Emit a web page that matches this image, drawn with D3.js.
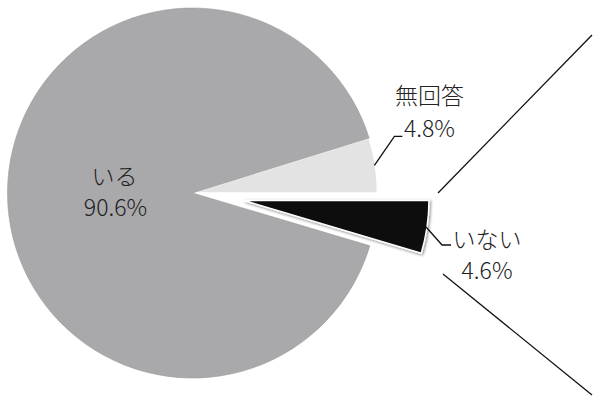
<!DOCTYPE html>
<html><head><meta charset="utf-8">
<script src="https://cdn.jsdelivr.net/npm/d3@7"></script>
<style>html,body{margin:0;padding:0;background:#fff;}svg{display:block;}</style>
</head><body>
<svg id="c" width="595" height="397"></svg>
<script>
const categories = ["無回答", "いない", "いる"];
const values = [4.8, 4.6, 90.6];
const valueLabels = ["4.8%", "4.6%", "90.6%"];

const colors = {"無回答": "#e3e3e3", "いない": "#0e0e0e", "いる": "#a9a9ab"};
const svg = d3.select("#c");
const cx = 192.5, cy = 193, R = 185;
const total = d3.sum(values);
const startA = Math.PI / 2 - (values[0] / total) * 2 * Math.PI;

const pie = d3.pie().sort(null).value(d => d.v)
  .startAngle(startA).endAngle(startA + 2 * Math.PI);
const data = categories.map((c, i) => ({c, v: values[i], lab: valueLabels[i]}));
const arcs = pie(data);
const arc = d3.arc().innerRadius(0).outerRadius(R);
const explode = {"いない": 52};

const font = "'Noto Sans CJK JP', 'Noto Sans', sans-serif";
const fw = 300;
const g = svg.append("g").attr("transform", `translate(${cx},${cy})`);

function offset(a, d) {
  const m = (a.startAngle + a.endAngle) / 2;
  return [Math.sin(m) * d, -Math.cos(m) * d];
}

const defs = svg.append("defs");
const f = defs.append("filter").attr("id", "sh").attr("x", "-20%").attr("y", "-20%").attr("width", "140%").attr("height", "140%");
f.append("feGaussianBlur").attr("in", "SourceAlpha").attr("stdDeviation", 1.5).attr("result", "b");
f.append("feOffset").attr("in", "b").attr("dx", 1).attr("dy", 1).attr("result", "o");
f.append("feComponentTransfer").attr("in", "o").attr("result", "o2")
  .append("feFuncA").attr("type", "linear").attr("slope", 0.5);
const fm = f.append("feMerge");
fm.append("feMergeNode").attr("in", "o2");
fm.append("feMergeNode").attr("in", "SourceGraphic");

g.selectAll("path.s").data(arcs).join("path")
  .attr("class", "s")
  .attr("d", arc)
  .attr("transform", d => { const o = offset(d, explode[d.data.c] || 0); return `translate(${o[0]},${o[1]})`; })
  .attr("fill", d => colors[d.data.c])
  .attr("stroke", d => d.data.c === "いる" ? "#9a9a9c" : "#ffffff")
  .attr("stroke-width", d => d.data.c === "いる" ? 0.6 : 1.5)
  .attr("filter", d => d.data.c === "いない" ? "url(#sh)" : null);

function label(x, y, t) {
  g.append("text").attr("x", x).attr("y", y).attr("text-anchor", "middle")
    .attr("font-family", font).attr("font-weight", fw).attr("font-size", 23)
    .attr("fill", "#222").text(t);
}

const leaderCfg = {"無回答": {dx: 20, dy: -29, h: 8, dir: -1}, "いない": {dx: 16, dy: 18, h: 9, dir: 1}};
arcs.forEach(a => {
  const c = a.data.c;
  const ex = offset(a, explode[c] || 0);
  const p0 = offset(a, R - 1);
  const x0 = p0[0] + ex[0], y0 = p0[1] + ex[1];
  if (c === "いる") {
    label(-78, -8, c);
    label(-77, 23, a.data.lab);
    return;
  }
  const L = leaderCfg[c];
  const x1 = x0 + L.dx, y1 = y0 + L.dy, x2 = x1 + L.h;
  g.append("path").attr("d", `M${x0},${y0}L${x1},${y1}L${x2},${y1}`)
    .attr("fill", "none").attr("stroke", "#111").attr("stroke-width", 1.3);
  if (L.dir < 0) {
    label(x2 + 27, y1 - 32, c);
    label(x2 + 27, y1 + 1, a.data.lab);
  } else {
    label(x2 + 36, y1 + 3, c);
    label(x2 + 36, y1 + 34, a.data.lab);
  }
});

const connectors = [[[438, 193], [592, 35]], [[443, 274], [592, 395]]];
svg.selectAll("line.k").data(connectors).join("line")
  .attr("x1", d => d[0][0]).attr("y1", d => d[0][1])
  .attr("x2", d => d[1][0]).attr("y2", d => d[1][1])
  .attr("stroke", "#111").attr("stroke-width", 1.3);
</script>
</body></html>
